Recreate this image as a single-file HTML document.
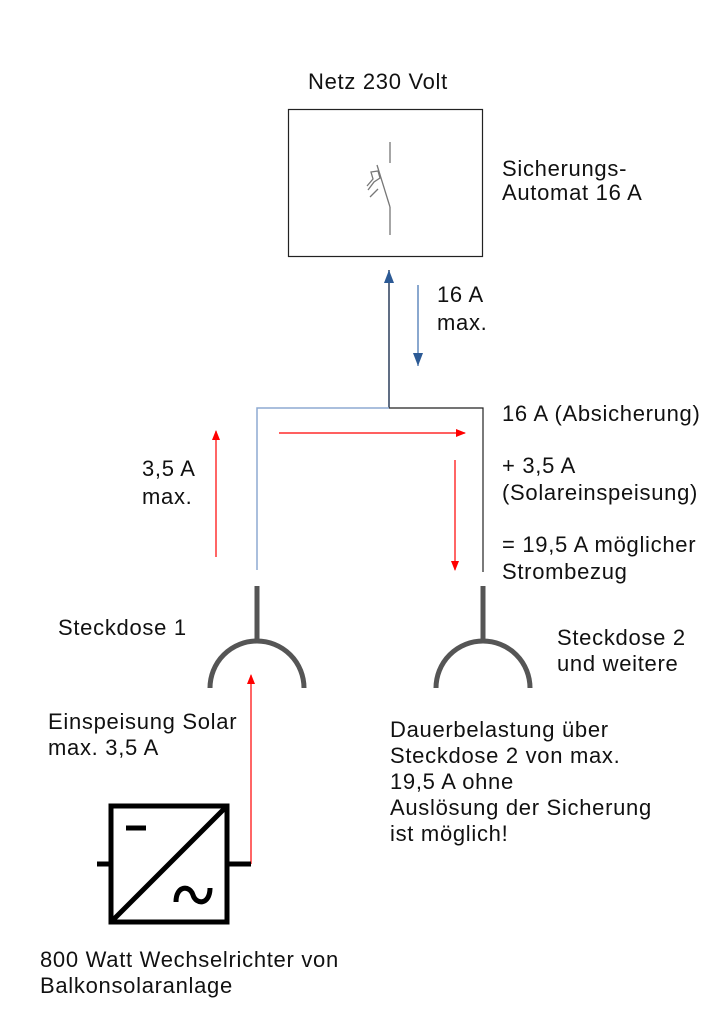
<!DOCTYPE html>
<html><head><meta charset="utf-8"><style>
body{margin:0;background:#fff;}
svg text{font-family:"Liberation Sans",sans-serif;font-size:22px;letter-spacing:0.7px;fill:#111;}
</style></head><body>
<svg width="714" height="1024" xmlns="http://www.w3.org/2000/svg">
<defs>
<marker id="r" markerWidth="10" markerHeight="10" refX="9" refY="5" orient="auto" markerUnits="userSpaceOnUse"><path d="M0,1 L10,5 L0,9 z" fill="#f00"/></marker>
<marker id="b" markerWidth="14" markerHeight="12" refX="13" refY="6" orient="auto" markerUnits="userSpaceOnUse"><path d="M0,1 L13,6 L0,11 z" fill="#2c5a95"/></marker>
</defs>
<text x="308" y="89">Netz 230 Volt</text>
<rect x="288.5" y="109.5" width="194" height="147" fill="none" stroke="#222" stroke-width="1.2"/>
<g stroke="#777" stroke-width="1.3" fill="none">
<line x1="390" y1="142" x2="390" y2="163"/>
<line x1="390" y1="235" x2="390" y2="207"/>
<line x1="390" y1="207" x2="377" y2="165"/>
<path d="M367,186 L373,179 L371,172 L378,171 L380,178 L374,182 L368,190 M370,197 L378,189"/>
</g>
<text x="502" y="176">Sicherungs-</text>
<text x="502" y="200">Automat 16 A</text>
<line x1="389" y1="408" x2="389" y2="270" stroke="#2c3e5c" stroke-width="1.5" marker-end="url(#b)"/>
<line x1="418" y1="285" x2="418" y2="366" stroke="#4a78b5" stroke-width="1.3" marker-end="url(#b)"/>
<text x="437" y="302">16 A</text>
<text x="437" y="330">max.</text>
<polyline points="257,570 257,408 389,408" fill="none" stroke="#8eaad2" stroke-width="1.5"/>
<polyline points="389,408 483,408 483,572" fill="none" stroke="#222" stroke-width="1.2"/>
<line x1="216" y1="557" x2="216" y2="431" stroke="#f00" stroke-width="1.2" marker-end="url(#r)"/>
<line x1="279" y1="433" x2="465" y2="433" stroke="#f00" stroke-width="1.2" marker-end="url(#r)"/>
<line x1="455" y1="460" x2="455" y2="570" stroke="#f00" stroke-width="1.2" marker-end="url(#r)"/>
<text x="142" y="476">3,5 A</text>
<text x="142" y="504">max.</text>
<text x="502" y="421">16 A (Absicherung)</text>
<text x="502" y="473">+ 3,5 A</text>
<text x="502" y="500">(Solareinspeisung)</text>
<text x="502" y="552">= 19,5 A möglicher</text>
<text x="502" y="579">Strombezug</text>
<g stroke="#555" stroke-width="5" fill="none">
<line x1="257" y1="586" x2="257" y2="641"/>
<path d="M210,688 A47,47 0 0 1 304,688"/>
<line x1="483" y1="586" x2="483" y2="641"/>
<path d="M436,688 A47,47 0 0 1 530,688"/>
</g>
<text x="58" y="635">Steckdose 1</text>
<text x="557" y="645">Steckdose 2</text>
<text x="557" y="671">und weitere</text>
<text x="48" y="729">Einspeisung Solar</text>
<text x="48" y="755">max. 3,5 A</text>
<text x="390" y="737">Dauerbelastung über</text>
<text x="390" y="763">Steckdose 2 von max.</text>
<text x="390" y="789">19,5 A ohne</text>
<text x="390" y="815">Auslösung der Sicherung</text>
<text x="390" y="841">ist möglich!</text>
<line x1="251" y1="864" x2="251" y2="675" stroke="#f00" stroke-width="1.2" marker-end="url(#r)"/>
<g stroke="#000" stroke-width="5" fill="none">
<rect x="111" y="806" width="116" height="116"/>
<line x1="111" y1="922" x2="227" y2="806"/>
<line x1="97" y1="864" x2="111" y2="864"/>
<line x1="227" y1="864" x2="251" y2="864"/>
<line x1="126" y1="828" x2="146" y2="828"/>
<path d="M176,902 C176,885 190,885 193,895 C196,905 210,905 210,888"/>
</g>
<text x="40" y="967">800 Watt Wechselrichter von</text>
<text x="40" y="993">Balkonsolaranlage</text>
</svg>
</body></html>
